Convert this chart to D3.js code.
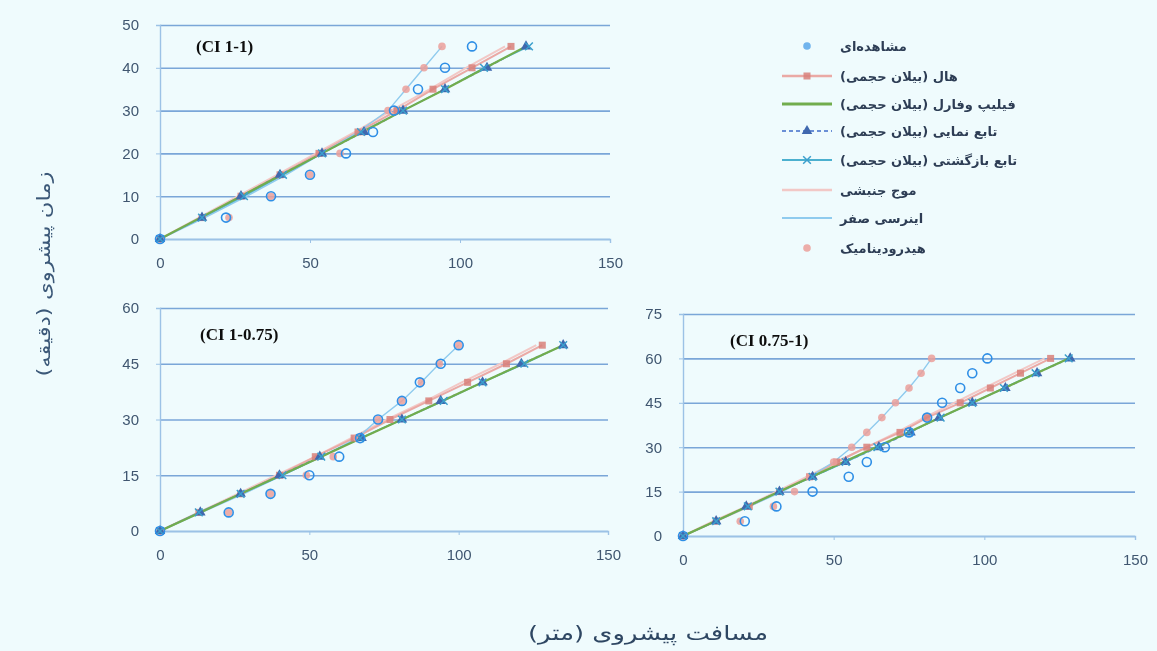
<!DOCTYPE html>
<html>
<head>
<meta charset="utf-8">
<script src="https://cdn.jsdelivr.net/npm/d3@7"></script>
<style>
  html, body { margin: 0; padding: 0; background: #effbfd; }
  svg { display: block; }
</style>
</head>
<body>
<script>
'use strict';

// legend labels (Persian, as in the figure)
const seriesNames = [
  'مشاهده‌ای',
  'هال (بیلان حجمی)',
  'فیلیپ وفارل (بیلان حجمی)',
  'تابع نمایی (بیلان حجمی)',
  'تابع بازگشتی (بیلان حجمی)',
  'موج جنبشی',
  'اینرسی صفر',
  'هیدرودینامیک'
];

const panelTitles = ['(CI 1-1)', '(CI 1-0.75)', '(CI 0.75-1)'];
const yTicks1 = [0, 10, 20, 30, 40, 50];
const yTicks2 = [0, 15, 30, 45, 60];
const yTicks3 = [0, 15, 30, 45, 60, 75];
const xTicks = [0, 50, 100, 150];

// panel 1 : CI 1-1  (time in minutes, advance distance in metres)
const time1 = [0, 5, 10, 15, 20, 25, 30, 35, 40, 45];
const observed1 = [0, 22, 37, 50, 62, 71, 78, 86, 95, 104];
const hall1 = [0, 14, 27, 40, 53, 66, 79, 91, 104, 117];
const philip1 = [0, 13.5, 27, 40.5, 54, 67.5, 81, 95, 108.5, 122];
const expo1 = [0, 14, 27, 40, 54, 68, 81, 95, 109, 122];
const recursive1 = [0, 14, 28, 41, 54, 67, 81, 95, 108, 123];
const kinematic1 = [0, 13, 26, 39, 52, 65, 77, 90, 102, 115];
const zeroInertia1 = [0, 15, 29, 42, 54, 66, 76, 82, 88, 94];
const hydro1 = [0, 23, 37, 50, 60, 68, 76, 82, 88, 94];

// panel 2 : CI 1-0.75
const time2 = [0, 5, 10, 15, 20, 25, 30, 35, 40, 45, 50];
const observed2 = [0, 23, 37, 50, 60, 67, 73, 81, 87, 94, 100];
const hall2 = [0, 13, 27, 40, 52, 65, 77, 90, 103, 116, 128];
const philip2 = [0, 13.5, 27, 40.5, 54, 67.5, 81, 94.5, 108, 121.5, 135];
const expo2 = [0, 13.5, 27, 40, 53.5, 67.5, 81, 94, 108, 121, 135];
const recursive2 = [0, 13, 27, 41, 54, 67, 81, 95, 108, 122, 135];
const kinematic2 = [0, 13, 26, 39, 52, 64, 76, 89, 101, 114, 126];
const zeroInertia2 = [0, 14, 28, 41, 54, 66, 73, 81, 87.5, 93.5, 100];
const hydro2 = [0, 23, 37, 49, 58, 66, 73, 81, 87.5, 93.5, 100];

// panel 3 : CI 0.75-1
const time3 = [0, 5, 10, 15, 20, 25, 30, 35, 40, 45, 50, 55, 60];
const observed3 = [0, 20.5, 31, 43, 55, 61, 67, 75, 81, 86, 92, 96, 101];
const hall3 = [0, 11, 22, 32, 42, 51, 61, 72, 81, 92, 102, 112, 122];
const philip3 = [0, 10.7, 21.3, 32, 42.7, 53.3, 64, 74.7, 85.3, 96, 106.7, 117.3, 128];
const expo3 = [0, 11, 21, 32, 43, 54, 65, 75.5, 85, 96, 107, 117.5, 128.5];
const recursive3 = [0, 11, 21.5, 32, 43, 54, 64.5, 75, 85.5, 96, 106.5, 117, 128];
const kinematic3 = [0, 10, 21, 31, 41, 51, 61, 71, 80, 90, 100, 110, 120];
const zeroInertia3 = [0, 11, 22, 33, 42, 50, 56, 61, 66, 70.5, 75, 79, 82.5];
const hydro3 = [0, 19, 30, 37, 42, 50, 56, 61, 66, 70.5, 75, 79, 82.5];

const width = 1157;
const height = 651;

// series drawing styles, in legend order
const styles = [
  { line: null, marker: 'ring', color: '#2f8fe6' },
  { line: '#eaa9a5', width: 2, marker: 'square', color: '#d8807a' },
  { line: '#72ad4e', width: 2.2, marker: null },
  { line: '#6b8fd6', width: 1.2, dash: '4,3', marker: 'triangle', color: '#3f67ae' },
  { line: '#4bb0cf', width: 1.4, marker: 'cross', color: '#3a9fcd' },
  { line: '#f2c8c6', width: 2, marker: null },
  { line: '#8fcbee', width: 1.4, marker: 'plus', color: '#8fcbee' },
  { line: null, marker: 'dot', color: '#eb9f9a' }
];

const panels = [
  { title: panelTitles[0], time: time1, yTicks: yTicks1,
    series: [observed1, hall1, philip1, expo1, recursive1, kinematic1, zeroInertia1, hydro1],
    x0: 160, x1: 610, y0: 239, y1: 25, titleX: 196, titleY: 52 },
  { title: panelTitles[1], time: time2, yTicks: yTicks2,
    series: [observed2, hall2, philip2, expo2, recursive2, kinematic2, zeroInertia2, hydro2],
    x0: 160, x1: 608, y0: 531, y1: 308, titleX: 200, titleY: 340 },
  { title: panelTitles[2], time: time3, yTicks: yTicks3,
    series: [observed3, hall3, philip3, expo3, recursive3, kinematic3, zeroInertia3, hydro3],
    x0: 683, x1: 1135, y0: 536, y1: 314, titleX: 730, titleY: 346 }
];

const svg = d3.select('body').append('svg')
  .attr('width', width)
  .attr('height', height);

const defs = svg.append('defs');
defs.append('filter').attr('id', 'soft')
  .append('feGaussianBlur').attr('stdDeviation', 0.55);

svg.append('rect')
  .attr('width', width)
  .attr('height', height)
  .attr('fill', '#effbfd');

const root = svg.append('g').attr('filter', 'url(#soft)');

function drawMarker(g, type, color, cx, cy) {
  if (type === 'ring') {
    g.append('circle').attr('cx', cx).attr('cy', cy).attr('r', 4.5)
      .attr('fill', 'none').attr('stroke', color).attr('stroke-width', 1.6);
  } else if (type === 'square') {
    g.append('rect').attr('x', cx - 3.5).attr('y', cy - 3.5)
      .attr('width', 7).attr('height', 7).attr('fill', color).attr('opacity', 0.85);
  } else if (type === 'triangle') {
    g.append('path')
      .attr('d', d3.symbol().type(d3.symbolTriangle).size(48)())
      .attr('transform', 'translate(' + cx + ',' + cy + ')')
      .attr('fill', color);
  } else if (type === 'cross') {
    g.append('path')
      .attr('d', d3.symbol().type(d3.symbolX).size(40)())
      .attr('transform', 'translate(' + cx + ',' + cy + ')')
      .attr('fill', 'none').attr('stroke', color).attr('stroke-width', 1.5);
  } else if (type === 'plus') {
    g.append('path')
      .attr('d', d3.symbol().type(d3.symbolPlus).size(20)())
      .attr('transform', 'translate(' + cx + ',' + cy + ')')
      .attr('fill', color);
  } else if (type === 'dot') {
    g.append('circle').attr('cx', cx).attr('cy', cy).attr('r', 3.8)
      .attr('fill', color).attr('opacity', 0.85);
  }
}

function styleAxis(a) {
  a.select('.domain').attr('stroke', '#9cc2e6').attr('stroke-width', 1.4);
  a.selectAll('line').attr('stroke', '#9cc2e6');
  a.selectAll('text').attr('fill', '#3f5670')
    .style('font-family', 'Liberation Sans, Arial, sans-serif')
    .style('font-size', '15px');
}

panels.forEach(function(p) {
  const x = d3.scaleLinear().domain([0, 150]).range([p.x0, p.x1]);
  const y = d3.scaleLinear().domain([0, d3.max(p.yTicks)]).range([p.y0, p.y1]);
  const g = root.append('g');

  // horizontal gridlines
  g.append('g')
    .attr('transform', 'translate(' + p.x0 + ',0)')
    .call(d3.axisLeft(y).tickValues(p.yTicks).tickSize(-(p.x1 - p.x0)).tickFormat(''))
    .call(function(a) {
      a.select('.domain').remove();
      a.selectAll('line').attr('stroke', '#7aa6d8').attr('stroke-width', 1.6);
    });

  // y axis
  g.append('g')
    .attr('transform', 'translate(' + p.x0 + ',0)')
    .call(d3.axisLeft(y).tickValues(p.yTicks).tickSize(4).tickPadding(17))
    .call(styleAxis);

  // x axis
  g.append('g')
    .attr('transform', 'translate(0,' + p.y0 + ')')
    .call(d3.axisBottom(x).tickValues(xTicks).tickSize(4).tickPadding(14))
    .call(styleAxis);

  // lines (draw soft ones first)
  [5, 1, 6, 3, 4, 2].forEach(function(i) {
    const s = styles[i];
    const pts = p.series[i].map(function(v, k) { return [v, p.time[k]]; });
    g.append('path')
      .datum(pts)
      .attr('fill', 'none')
      .attr('stroke', s.line)
      .attr('stroke-width', s.width)
      .attr('stroke-dasharray', s.dash || null)
      .attr('d', d3.line().x(function(d) { return x(d[0]); }).y(function(d) { return y(d[1]); }));
  });

  // markers
  [6, 1, 7, 3, 4, 0].forEach(function(i) {
    const s = styles[i];
    p.series[i].forEach(function(v, k) {
      drawMarker(g, s.marker, s.color, x(v), y(p.time[k]));
    });
  });

  g.append('text')
    .attr('x', p.titleX)
    .attr('y', p.titleY)
    .attr('fill', '#111')
    .style('font-family', 'Liberation Serif, Times New Roman, serif')
    .style('font-weight', 'bold')
    .style('font-size', '17px')
    .text(p.title);
});

// legend
const legend = root.append('g');
const legendRows = [46, 76, 104, 131, 160, 190, 218, 248];
seriesNames.forEach(function(name, i) {
  const s = styles[i];
  const ly = legendRows[i];
  if (s.line) {
    legend.append('line')
      .attr('x1', 782).attr('x2', 832).attr('y1', ly).attr('y2', ly)
      .attr('stroke', s.line).attr('stroke-width', s.width + 0.6)
      .attr('stroke-dasharray', s.dash || null);
  }
  if (s.marker) {
    const type = s.marker === 'ring' ? 'dot' : s.marker;
    drawMarker(legend, type, i === 0 ? '#5aa7ea' : s.color, 807, ly);
  }
  legend.append('text')
    .attr('x', 840)
    .attr('y', ly + 5)
    .attr('direction', 'rtl')
    .attr('text-anchor', 'end')
    .attr('fill', '#2d3e55')
    .style('font-family', 'DejaVu Sans, sans-serif')
    .style('font-weight', 'bold')
    .style('font-size', '13px')
    .text(name);
});

// axis titles
root.append('text')
  .attr('transform', 'translate(50,274) rotate(-90)')
  .attr('text-anchor', 'middle')
  .attr('direction', 'rtl')
  .attr('fill', '#3b5878')
  .attr('textLength', 205)
  .attr('lengthAdjust', 'spacingAndGlyphs')
  .style('font-family', 'DejaVu Sans, sans-serif')
  .style('font-size', '18px')
  .text('زمان پیشروی (دقیقه)');

root.append('text')
  .attr('x', 648)
  .attr('y', 640)
  .attr('text-anchor', 'middle')
  .attr('direction', 'rtl')
  .attr('fill', '#2f4763')
  .attr('textLength', 240)
  .attr('lengthAdjust', 'spacingAndGlyphs')
  .style('font-family', 'DejaVu Sans, sans-serif')
  .style('font-size', '20px')
  .text('مسافت پیشروی (متر)');
</script>
</body>
</html>
